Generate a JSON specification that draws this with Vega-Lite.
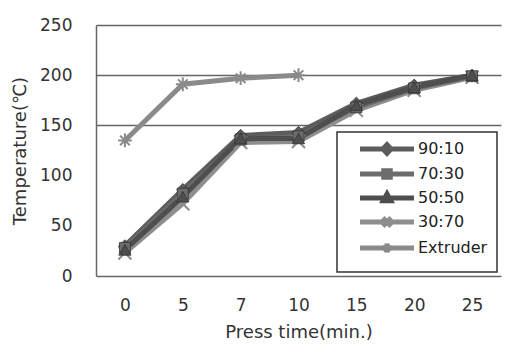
{
  "$schema": "https://vega.github.io/schema/vega-lite/v6.json",
  "autosize": "none",
  "width": 405,
  "height": 251,
  "padding": {"left": 96, "top": 25, "right": 16, "bottom": 79},
  "background": "white",
  "config": {
    "view": {"stroke": null},
    "font": "DejaVu Sans",
    "axis": {"labelFont": "DejaVu Sans", "titleFont": "DejaVu Sans", "labelColor": "#333", "titleColor": "#333", "titleFontWeight": "normal", "domainColor": "#666", "domainWidth": 1.5, "gridColor": "#666", "gridWidth": 1.5}
  },
  "data": {
    "values": [
      {"series": "Extruder", "time": 0, "temp": 135},
      {"series": "Extruder", "time": 5, "temp": 191},
      {"series": "Extruder", "time": 7, "temp": 197},
      {"series": "Extruder", "time": 10, "temp": 200},
      {"series": "30:70", "time": 0, "temp": 23},
      {"series": "30:70", "time": 5, "temp": 72},
      {"series": "30:70", "time": 7, "temp": 133},
      {"series": "30:70", "time": 10, "temp": 134},
      {"series": "30:70", "time": 15, "temp": 165},
      {"series": "30:70", "time": 20, "temp": 185},
      {"series": "30:70", "time": 25, "temp": 198},
      {"series": "90:10", "time": 0, "temp": 30},
      {"series": "90:10", "time": 5, "temp": 86},
      {"series": "90:10", "time": 7, "temp": 140},
      {"series": "90:10", "time": 10, "temp": 143},
      {"series": "90:10", "time": 15, "temp": 172},
      {"series": "90:10", "time": 20, "temp": 190},
      {"series": "90:10", "time": 25, "temp": 200},
      {"series": "70:30", "time": 0, "temp": 28},
      {"series": "70:30", "time": 5, "temp": 82},
      {"series": "70:30", "time": 7, "temp": 136},
      {"series": "70:30", "time": 10, "temp": 139},
      {"series": "70:30", "time": 15, "temp": 168},
      {"series": "70:30", "time": 20, "temp": 187},
      {"series": "70:30", "time": 25, "temp": 199},
      {"series": "50:50", "time": 0, "temp": 26},
      {"series": "50:50", "time": 5, "temp": 79},
      {"series": "50:50", "time": 7, "temp": 137},
      {"series": "50:50", "time": 10, "temp": 137},
      {"series": "50:50", "time": 15, "temp": 170},
      {"series": "50:50", "time": 20, "temp": 188},
      {"series": "50:50", "time": 25, "temp": 200}
    ]
  },
  "encoding": {
    "x": {
      "field": "time", "type": "ordinal",
      "scale": {"type": "point", "padding": 0.5, "domain": [0, 5, 7, 10, 15, 20, 25]},
      "axis": {"title": "Press time(min.)", "labelAngle": 0, "ticks": false, "grid": false, "labelFontSize": 17, "labelPadding": 21, "titleFontSize": 18, "titlePadding": 10}
    },
    "y": {
      "field": "temp", "type": "quantitative",
      "scale": {"domain": [0, 250], "nice": false, "zero": true},
      "axis": {"title": "Temperature(℃)", "values": [0, 50, 100, 150, 200, 250], "ticks": false, "labelFontSize": 17, "labelPadding": 24, "titleFontSize": 18, "titlePadding": 10,
        "gridOpacity": {"condition": {"test": "datum.value >= 150", "value": 1}, "value": 0}}
    }
  },
  "layer": [
    {
      "mark": {"type": "line"},
      "encoding": {
        "color": {
          "field": "series", "type": "nominal",
          "scale": {"domain": ["90:10", "70:30", "50:50", "30:70", "Extruder"], "range": ["#5c5c5c", "#6c6c6c", "#4e4e4e", "#8e8e8e", "#8a8a8a"]},
          "legend": {
            "title": null, "orient": "bottom-right", "offset": 4,
            "strokeColor": "#333", "fillColor": "white", "padding": 9,
            "labelFont": "DejaVu Sans", "labelFontSize": 16, "labelColor": "#222", "labelOffset": 56,
            "symbolSize": 100, "rowPadding": -4,
            "encode": {
              "legend": {"update": {"strokeWidth": {"value": 1.5}}},
              "symbols": {
                "update": {
                  "shape": {"signal": "datum.value === '90:10' ? 'M1.2,0L12,0M6.6,-0.85L7.4,0L6.6,0.85L5.8,0Z' : datum.value === '70:30' ? 'M1.2,0L12,0M5.95,-0.65L7.25,-0.65L7.25,0.65L5.95,0.65Z' : datum.value === '50:50' ? 'M1.2,0L12,0M6.6,-0.8L7.35,0.55L5.85,0.55Z' : datum.value === '30:70' ? 'M1.2,0L12,0M5.75,-0.85L7.45,0.85M5.75,0.85L7.45,-0.85' : 'M1.2,0L12,0M5.7,0L7.5,0M6.6,-0.9L6.6,0.9M5.95,-0.65L7.25,0.65M5.95,0.65L7.25,-0.65'"},
                  "stroke": {"scale": "color", "field": "value"},
                  "fill": {"scale": "color", "field": "value"},
                  "strokeWidth": {"signal": "datum.value === '30:70' || datum.value === 'Extruder' ? 2 : 3.5"},
                  "opacity": {"value": 1}
                }
              }
            }
          }
        },
        "strokeWidth": {"field": "series", "type": "nominal", "scale": {"domain": ["90:10", "70:30", "50:50", "30:70", "Extruder"], "range": [5, 5, 5, 4, 3.5]}, "legend": null}
      }
    },
    {
      "transform": [{"filter": "datum.series === '30:70'"}],
      "mark": {"type": "point", "filled": false, "opacity": 1, "size": 170, "strokeWidth": 2, "color": "#8e8e8e", "shape": "M-1,-1L1,1M-1,1L1,-1"},
      "encoding": {}
    },
    {
      "transform": [{"filter": "datum.series === 'Extruder'"}],
      "mark": {"type": "point", "filled": false, "opacity": 1, "size": 190, "strokeWidth": 2, "color": "#8a8a8a", "shape": "M-1,0L1,0M0,-1L0,1M-0.7,-0.7L0.7,0.7M-0.7,0.7L0.7,-0.7"},
      "encoding": {}
    },
    {
      "transform": [{"filter": "datum.series === '90:10'"}],
      "mark": {"type": "point", "filled": true, "opacity": 1, "size": 150, "shape": "diamond", "fill": "#5c5c5c", "stroke": "#333", "strokeWidth": 0.8},
      "encoding": {}
    },
    {
      "transform": [{"filter": "datum.series === '70:30'"}],
      "mark": {"type": "point", "filled": true, "opacity": 1, "size": 120, "shape": "square", "fill": "#6c6c6c", "stroke": "#333", "strokeWidth": 0.8},
      "encoding": {}
    },
    {
      "transform": [{"filter": "datum.series === '50:50'"}],
      "mark": {"type": "point", "filled": true, "opacity": 1, "size": 150, "shape": "triangle-up", "fill": "#4e4e4e", "stroke": "#333", "strokeWidth": 0.8},
      "encoding": {}
    }
  ]
}
